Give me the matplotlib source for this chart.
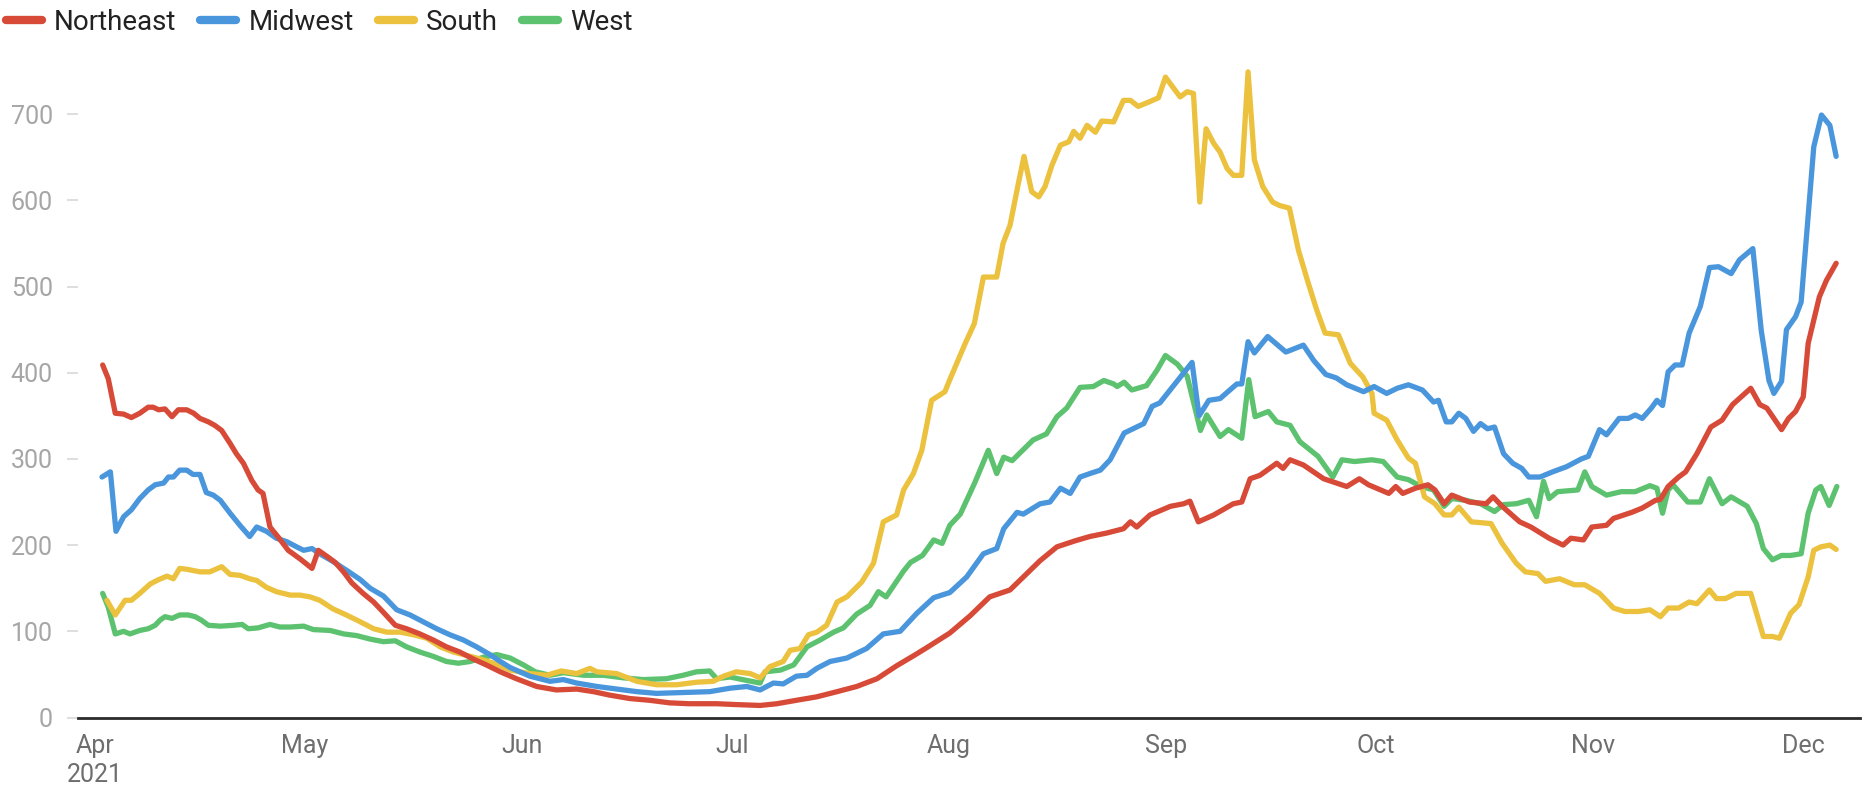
import datetime as dt
import numpy as np
import matplotlib
matplotlib.use("Agg")
import matplotlib.pyplot as plt
import matplotlib.dates as mdates
from matplotlib.lines import Line2D

plt.rcParams['font.family'] = ['Roboto', 'DejaVu Sans']

# days counted from 2021-04-01
ne_day = [1.1, 1.9, 2.9, 4.1, 5.2, 6.4, 7.6, 8.3, 9.1, 10.0, 11.0, 11.9, 13.1, 14.1, 15.0, 16.2, 17.1, 18.1,
          19.3, 20.2, 21.2, 22.4, 23.3, 24.0, 25.0, 26.2, 27.6, 29.3, 31.0, 31.9, 33.3, 34.3, 35.5, 36.7,
          38.3, 39.8, 41.2, 42.9, 44.5, 46.4, 48.3, 50.2, 52.1, 54.0, 55.9, 57.9, 60.2, 63.1, 65.9, 68.8,
          71.2, 73.5, 76.4, 79.2, 82.1, 84.9, 88.8, 91.6, 95.0, 97.4, 100.2, 103.1, 106.0, 108.8, 111.7,
          114.5, 117.0, 119.0, 122.1, 125.0, 127.8, 130.7, 132.6, 135.0, 137.4, 140.0, 142.1, 144.5, 146.9,
          147.9, 148.8, 150.7, 153.6, 155.5, 156.4, 157.6, 159.8, 162.6, 163.8, 165.0, 166.4, 168.8, 169.7,
          170.7, 172.6, 175.5, 178.8, 180.6, 181.9, 184.8, 185.8, 186.8, 188.6, 190.4, 191.4, 192.7, 193.8,
          196.3, 198.7, 199.7, 201.0, 203.5, 205.1, 207.7, 209.7, 210.8, 212.6, 213.8, 215.9, 216.9, 219.5,
          221.0, 222.9, 223.6, 224.7, 226.2, 227.2, 228.8, 230.8, 232.4, 233.9, 236.5, 237.8, 238.8, 240.9,
          241.9, 242.9, 244.0, 244.7, 246.3, 247.3, 248.7]
ne_val = [409, 393, 353, 352, 348, 353, 360, 360, 357, 358, 349, 357, 357, 353, 347, 343, 339, 333,
          318, 306, 295, 275, 264, 260, 221, 209, 194, 184, 173, 194, 186, 180, 169, 156,
          144, 134, 122, 107, 103, 97, 90, 82, 76, 68, 61, 53, 45, 36, 32, 33,
          30, 26, 22, 20, 17, 16, 16, 15, 14, 16, 20, 24, 30, 36, 45,
          60, 72, 82, 98, 118, 140, 148, 163, 182, 198, 205, 210, 214, 219,
          227, 221, 235, 245, 248, 251, 227, 235, 248, 250, 277, 281, 295, 289,
          299, 293, 277, 268, 277, 270, 260, 268, 260, 266, 270, 264, 248, 258,
          250, 248, 256, 245, 227, 221, 208, 200, 208, 206, 221, 223, 231, 238,
          243, 252, 253, 268, 279, 285, 306, 337, 345, 363, 382, 363, 359, 334,
          347, 355, 372, 434, 488, 507, 527]

mw_day = [1.0, 2.2, 3.0, 4.1, 5.2, 6.4, 7.6, 8.6, 9.8, 10.5, 11.2, 12.1, 13.1, 14.0, 15.0, 15.9, 16.9, 17.9,
          19.3, 20.7, 22.1, 23.1, 24.5, 25.9, 27.4, 28.8, 29.8, 31.0, 32.1, 34.0, 35.9, 37.9, 39.3, 41.2,
          43.1, 45.0, 46.9, 48.8, 50.7, 52.6, 54.5, 56.4, 57.9, 59.3, 62.1, 65.0, 66.9, 68.8, 71.7, 74.5,
          77.4, 80.2, 84.0, 87.8, 90.7, 93.1, 95.0, 96.9, 98.3, 100.2, 101.7, 103.1, 105.0, 107.4, 110.2,
          112.6, 115.0, 117.4, 119.8, 122.1, 124.5, 126.9, 128.8, 129.8, 131.7, 132.6, 135.0, 136.4, 137.9,
          139.3, 140.7, 142.1, 143.6, 145.0, 147.0, 149.8, 151.0, 152.1, 156.7, 157.7, 159.1, 160.7, 163.1,
          163.8, 164.7, 165.6, 167.5, 170.1, 172.6, 174.1, 175.8, 177.3, 178.8, 181.2, 182.7, 184.5, 186.0,
          187.6, 189.6, 191.2, 191.9, 193.0, 193.8, 194.8, 195.8, 196.9, 197.9, 198.9, 199.9, 201.2, 202.5,
          203.8, 204.8, 206.4, 208.2, 210.2, 212.3, 213.3, 214.9, 215.9, 217.7, 219.0, 220.0, 221.0, 222.3,
          223.1, 223.9, 224.7, 225.7, 226.7, 227.7, 229.3, 230.6, 231.9, 233.7, 234.9, 236.8, 238.0, 239.1,
          239.8, 240.9, 241.6, 242.9, 243.7, 244.5, 245.5, 246.6, 247.8, 248.7]
mw_val = [279, 285, 216, 233, 241, 254, 264, 270, 272, 279, 279, 287, 287, 282, 282, 261, 258, 252,
          237, 223, 210, 221, 216, 208, 204, 198, 194, 196, 190, 181, 171, 160, 150, 141,
          125, 119, 111, 103, 96, 90, 82, 73, 65, 58, 48, 42, 44, 40, 36, 33,
          30, 28, 29, 30, 34, 36, 32, 40, 39, 48, 49, 57, 65, 69, 80,
          97, 100, 121, 139, 145, 163, 190, 196, 219, 238, 236, 248, 250, 266,
          260, 279, 283, 287, 299, 330, 341, 361, 365, 412, 350, 368, 370, 387,
          387, 436, 423, 442, 424, 432, 414, 398, 394, 386, 378, 384, 376, 382,
          386, 380, 366, 368, 343, 343, 353, 347, 332, 341, 335, 337, 306, 295,
          289, 279, 279, 285, 291, 300, 303, 334, 328, 347, 347, 351, 347, 359,
          368, 362, 401, 409, 409, 446, 477, 522, 523, 515, 531, 544, 449, 391,
          376, 390, 450, 465, 482, 562, 662, 699, 687, 651]

so_day = [1.7, 2.9, 4.3, 5.2, 6.4, 7.9, 9.1, 10.3, 11.2, 12.1, 13.1, 15.0, 16.4, 18.1, 19.3, 20.7, 22.1, 23.1,
          24.5, 25.9, 27.9, 29.3, 30.7, 32.1, 34.0, 35.9, 37.9, 39.8, 41.7, 43.6, 45.5, 47.4, 49.3, 51.2,
          53.1, 55.0, 56.9, 59.3, 62.1, 64.5, 66.6, 68.8, 70.7, 71.7, 74.5, 77.4, 80.2, 83.1, 86.0, 88.3,
          89.8, 91.6, 93.6, 95.0, 96.4, 98.3, 99.3, 100.7, 101.9, 103.1, 104.5, 106.0, 107.4, 109.5, 111.2,
          112.6, 114.5, 115.5, 116.9, 118.1, 119.5, 121.4, 122.1, 123.3, 124.3, 125.6, 126.9, 128.8, 129.7,
          130.7, 131.9, 132.7, 133.8, 134.8, 135.7, 136.7, 137.9, 139.1, 139.8, 140.7, 141.7, 142.9, 143.8,
          145.5, 146.9, 147.9, 149.0, 150.5, 151.9, 152.9, 153.8, 155.0, 156.0, 156.9, 157.8, 158.7, 159.8,
          160.7, 161.7, 162.6, 163.8, 164.7, 165.6, 166.8, 168.2, 169.2, 170.6, 171.9, 173.3, 174.5, 175.7,
          177.6, 179.3, 181.1, 182.4, 182.7, 184.5, 186.0, 187.6, 188.6, 189.9, 191.4, 192.7, 193.8, 194.8,
          196.6, 199.4, 201.0, 203.0, 204.3, 206.1, 207.2, 209.2, 211.3, 212.8, 214.9, 216.9, 218.5, 220.5,
          222.1, 223.6, 224.7, 226.2, 227.7, 228.8, 230.6, 231.6, 232.9, 234.4, 236.5, 238.3, 239.6, 240.6,
          242.2, 243.4, 244.7, 245.5, 246.5, 247.8, 248.7]
so_val = [136, 119, 136, 136, 144, 155, 160, 164, 161, 173, 172, 169, 169, 175, 166, 165, 161, 159,
          151, 146, 142, 142, 140, 136, 126, 119, 111, 103, 99, 99, 96, 92, 82, 76,
          72, 68, 63, 55, 51, 49, 54, 51, 57, 53, 51, 42, 38, 38, 41, 42,
          48, 53, 51, 46, 59, 65, 78, 80, 96, 99, 107, 134, 140, 157, 179,
          227, 235, 264, 283, 310, 368, 378, 392, 415, 434, 457, 511, 511, 550,
          571, 620, 651, 610, 604, 616, 641, 664, 668, 680, 672, 687, 679, 692,
          691, 716, 716, 709, 714, 719, 743, 733, 720, 726, 724, 598, 683, 666,
          656, 637, 629, 629, 749, 647, 616, 598, 594, 591, 542, 504, 473, 446,
          444, 411, 395, 376, 353, 345, 322, 301, 295, 256, 248, 235, 235, 244,
          227, 225, 202, 179, 169, 167, 158, 161, 154, 154, 144, 127, 123, 123,
          125, 117, 127, 127, 134, 132, 148, 138, 138, 144, 144, 94, 94, 92,
          121, 131, 163, 194, 198, 200, 195]

we_day = [1.1, 1.9, 2.9, 4.1, 5.0, 6.4, 7.6, 8.6, 9.3, 10.0, 11.0, 12.1, 13.3, 14.3, 15.2, 16.2, 17.9, 19.8,
          21.0, 21.9, 23.3, 25.0, 26.4, 27.9, 29.8, 31.2, 33.6, 35.5, 37.4, 39.3, 41.2, 42.9, 44.5, 46.4,
          48.3, 50.2, 51.9, 53.6, 55.5, 57.4, 59.3, 61.2, 62.9, 65.0, 66.9, 69.8, 72.6, 75.5, 78.3, 81.6,
          84.0, 85.9, 87.8, 88.8, 90.7, 93.1, 95.0, 95.7, 97.9, 99.8, 101.7, 103.6, 105.5, 106.9, 108.8,
          110.7, 111.9, 113.0, 115.5, 116.5, 118.2, 119.8, 121.0, 122.1, 123.6, 125.7, 127.6, 128.8, 129.8,
          131.0, 134.0, 135.9, 137.4, 138.8, 140.7, 142.6, 144.1, 145.5, 146.0, 147.0, 148.1, 150.2, 151.7,
          152.9, 154.6, 156.0, 157.9, 158.8, 160.7, 161.9, 163.8, 164.8, 165.7, 167.6, 168.8, 170.7, 172.1,
          174.7, 176.8, 178.1, 179.9, 182.4, 184.0, 186.0, 187.6, 189.4, 191.2, 192.7, 193.8, 195.8, 197.9,
          199.9, 201.2, 203.0, 204.8, 205.9, 206.9, 207.7, 208.9, 211.8, 212.8, 213.8, 215.9, 218.0, 220.0,
          222.1, 223.1, 223.9, 224.7, 225.4, 227.5, 229.3, 230.6, 232.4, 233.7, 236.0, 237.3, 238.3, 239.6,
          240.9, 242.2, 243.7, 244.7, 245.8, 246.5, 247.7, 248.8]
we_val = [144, 128, 97, 100, 97, 101, 103, 107, 113, 117, 115, 119, 119, 117, 113, 107, 106, 107,
          108, 103, 104, 108, 105, 105, 106, 102, 101, 97, 95, 91, 88, 89, 82, 76,
          71, 65, 63, 65, 70, 73, 69, 61, 53, 49, 52, 49, 49, 46, 44, 45,
          49, 53, 54, 45, 47, 43, 40, 53, 55, 61, 82, 90, 99, 104, 120,
          130, 146, 140, 170, 180, 188, 206, 202, 223, 236, 273, 310, 283, 302,
          298, 322, 329, 349, 359, 383, 384, 391, 387, 384, 389, 380, 385, 403,
          420, 410, 396, 333, 351, 326, 334, 324, 392, 349, 355, 343, 339, 320,
          303, 279, 299, 297, 299, 297, 279, 276, 268, 264, 245, 254, 252, 248,
          239, 247, 248, 252, 233, 274, 254, 262, 264, 285, 268, 258, 262, 262,
          269, 266, 237, 264, 270, 250, 250, 277, 248, 256, 245, 225, 196, 183,
          188, 188, 190, 237, 264, 268, 246, 268]

regions = ['Northeast', 'Midwest', 'South', 'West']
colors = ['#D84A38', '#4A96DC', '#EBC13E', '#5CC26F']
series = [(ne_day, ne_val), (mw_day, mw_val), (so_day, so_val), (we_day, we_val)]

base = mdates.date2num(dt.datetime(2021, 4, 1))

fig = plt.figure(figsize=(18.65, 7.96), dpi=100)
ax = fig.add_axes([0.0418, 0.0986, 0.9555, 0.8338])

# draw West first so Northeast ends up on top
for (days, vals), color in reversed(list(zip(series, colors))):
    x = base + np.array(days)
    ax.plot(x, vals, color=color, lw=3.8, solid_joinstyle='round', solid_capstyle='round')

ax.set_ylim(0, 770)
ax.set_xlim(base - 2.43, base + 252.1)

ax.set_yticks(range(0, 800, 100))
ax.tick_params(axis='y', colors='#d8d8d8', length=8, width=1.2, pad=10, labelsize=18, labelcolor='#a6a6a6')

month_ticks = [mdates.date2num(dt.datetime(2021, m, 1)) for m in range(4, 13)]
month_labels = ['Apr\n2021', 'May', 'Jun', 'Jul', 'Aug', 'Sep', 'Oct', 'Nov', 'Dec']
ax.set_xticks(month_ticks)
ax.set_xticklabels(month_labels, fontsize=18, color='#6e6e6e', linespacing=1.25)
ax.tick_params(axis='x', length=0, pad=12)

for side in ['top', 'right', 'left']:
    ax.spines[side].set_visible(False)
ax.spines['bottom'].set_color('#2b2b2b')
ax.spines['bottom'].set_linewidth(2.0)

handles = [Line2D([0], [0], color=c, lw=6, solid_capstyle='round') for c in colors]
fig.legend(handles, regions, loc='center left', bbox_to_anchor=(0.003, 0.972), ncol=4,
           frameon=False, fontsize=20, handlelength=1.3, handletextpad=0.45,
           columnspacing=0.85, borderpad=0, borderaxespad=0, labelcolor='#222222')

fig.savefig('out.png', dpi=100, facecolor='white')
